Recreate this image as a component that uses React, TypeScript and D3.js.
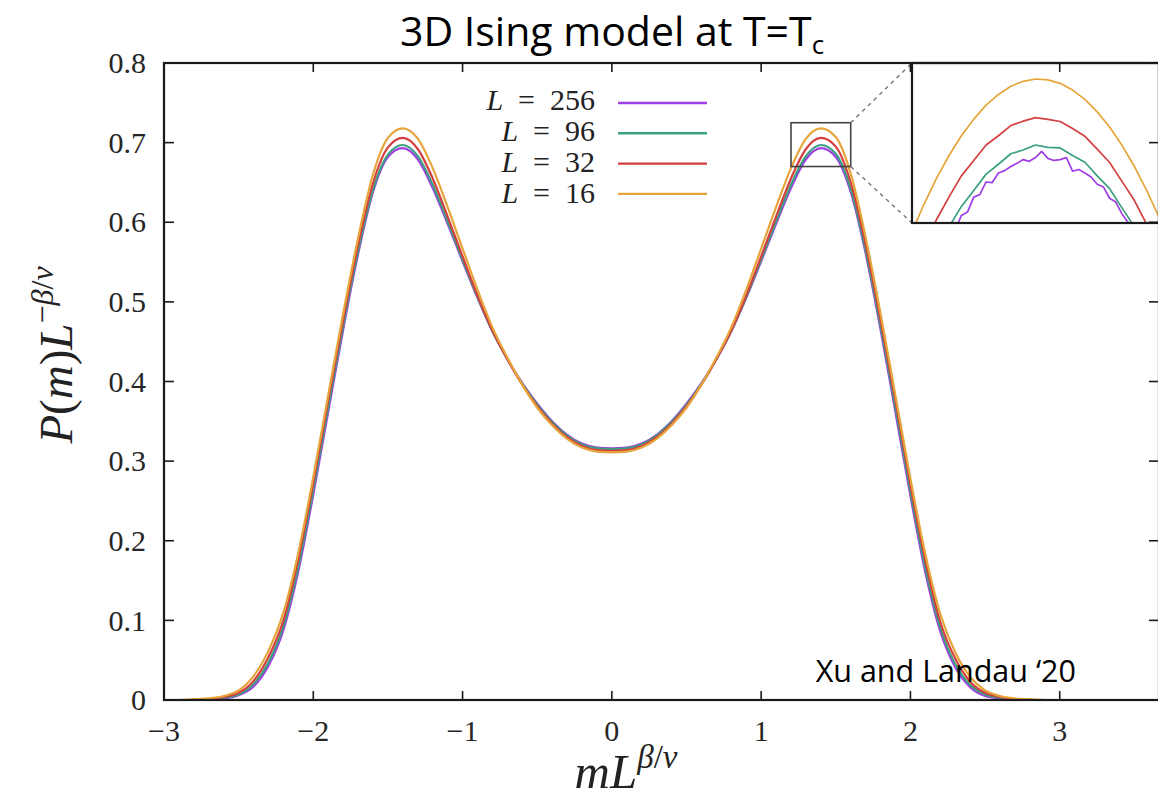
import React from "react";
import * as d3 from "d3";

// ---------- data ----------
const X_GRID = [
  -3.0, -2.9, -2.8, -2.7, -2.6, -2.5, -2.4, -2.3, -2.2, -2.1, -2.0, -1.9, -1.8, -1.7, -1.6, -1.5, -1.4,
  -1.3, -1.2, -1.1, -1.0, -0.9, -0.8, -0.7, -0.6, -0.5, -0.4, -0.3, -0.2, -0.1, 0.0, 0.1, 0.2, 0.3, 0.4,
  0.5, 0.6, 0.7, 0.8, 0.9, 1.0, 1.1, 1.2, 1.3, 1.4, 1.5, 1.6, 1.7, 1.8, 1.9, 2.0, 2.1, 2.2, 2.3, 2.4,
  2.5, 2.6, 2.7, 2.8, 2.9, 3.0, 3.1, 3.2, 3.3, 3.4, 3.5, 3.6,
];

const P_L256 = [
  0, 0, 0, 0.001, 0.002, 0.006, 0.017, 0.043, 0.088, 0.162, 0.258, 0.362, 0.465, 0.56, 0.638, 0.682, 0.693,
  0.679, 0.643, 0.598, 0.551, 0.505, 0.463, 0.428, 0.398, 0.372, 0.35, 0.333, 0.322, 0.317, 0.316, 0.317, 0.322, 0.333, 0.35,
  0.372, 0.398, 0.428, 0.463, 0.505, 0.551, 0.598, 0.643, 0.679, 0.693, 0.682, 0.638, 0.561, 0.465, 0.361, 0.256, 0.16, 0.086, 0.041, 0.016,
  0.005, 0.002, 0.001, 0, 0, 0, 0, 0, 0, 0, 0, 0,
];
const P_L96 = [
  0, 0, 0, 0.001, 0.003, 0.007, 0.02, 0.047, 0.093, 0.168, 0.264, 0.368, 0.47, 0.564, 0.641, 0.685, 0.697,
  0.683, 0.647, 0.601, 0.553, 0.506, 0.463, 0.428, 0.397, 0.371, 0.349, 0.332, 0.321, 0.316, 0.315, 0.316, 0.321, 0.332, 0.349,
  0.371, 0.397, 0.428, 0.463, 0.506, 0.553, 0.601, 0.647, 0.683, 0.697, 0.686, 0.642, 0.565, 0.47, 0.367, 0.262, 0.166, 0.091, 0.045, 0.019,
  0.007, 0.003, 0.001, 0, 0, 0, 0, 0, 0, 0, 0, 0,
];
const P_L32 = [
  0, 0, 0, 0.001, 0.004, 0.009, 0.024, 0.054, 0.1, 0.177, 0.272, 0.376, 0.477, 0.571, 0.649, 0.694, 0.706,
  0.692, 0.655, 0.607, 0.557, 0.508, 0.464, 0.428, 0.396, 0.369, 0.347, 0.33, 0.319, 0.314, 0.313, 0.314, 0.319, 0.33, 0.347,
  0.369, 0.396, 0.428, 0.464, 0.508, 0.557, 0.607, 0.655, 0.692, 0.706, 0.695, 0.65, 0.572, 0.477, 0.375, 0.27, 0.175, 0.098, 0.052, 0.023,
  0.009, 0.004, 0.001, 0, 0, 0, 0, 0, 0, 0, 0, 0,
];
const P_L16 = [
  0, 0, 0.001, 0.002, 0.005, 0.012, 0.03, 0.062, 0.11, 0.185, 0.28, 0.383, 0.485, 0.58, 0.66, 0.706, 0.718,
  0.705, 0.668, 0.619, 0.567, 0.515, 0.468, 0.43, 0.396, 0.367, 0.345, 0.328, 0.317, 0.312, 0.311, 0.312, 0.317, 0.328, 0.345,
  0.367, 0.396, 0.43, 0.468, 0.515, 0.567, 0.619, 0.668, 0.705, 0.718, 0.707, 0.661, 0.581, 0.485, 0.382, 0.278, 0.183, 0.108, 0.06, 0.029,
  0.012, 0.005, 0.002, 0.001, 0, 0, 0, 0, 0, 0, 0, 0,
];

// zoomed-in data around the right peak (inset)
const INSET_X = [
  1.2, 1.22, 1.24, 1.26, 1.28, 1.3, 1.32, 1.34, 1.36, 1.38, 1.4, 1.42, 1.44, 1.46, 1.48, 1.5, 1.52, 1.54, 1.56, 1.58, 1.6,
];
const INSET_L16 = [
  0.667, 0.6767, 0.6855, 0.6932, 0.7, 0.7057, 0.7105, 0.7142, 0.717, 0.7187, 0.7195, 0.7192, 0.718, 0.7157, 0.7125, 0.7082,
  0.703, 0.6967, 0.6895, 0.6812, 0.672,
];
const INSET_L32 = [
  0.6528, 0.6625, 0.6713, 0.679, 0.6862, 0.6915, 0.6968, 0.7, 0.7035, 0.705, 0.7062, 0.7056, 0.7049, 0.7025, 0.6998, 0.6954,
  0.6908, 0.6843, 0.6778, 0.6696, 0.6605,
];
const INSET_L96 = [
  0.6415, 0.6515, 0.6605, 0.6687, 0.6757, 0.6812, 0.6868, 0.6902, 0.6938, 0.6951, 0.6968, 0.696, 0.6958, 0.6932, 0.6909, 0.6862,
  0.6818, 0.6752, 0.6688, 0.6603, 0.6512,
];
const INSET_X_FINE = [
  1.26, 1.27, 1.28, 1.29, 1.3, 1.31, 1.32, 1.33, 1.34, 1.35, 1.36, 1.37, 1.38, 1.39, 1.4, 1.41, 1.42, 1.43, 1.44, 1.45, 1.46,
  1.47, 1.48, 1.49, 1.5, 1.51, 1.52, 1.53, 1.54, 1.55, 1.56,
];
const INSET_L256 = [
  0.6652, 0.6675, 0.6726, 0.6738, 0.6789, 0.6798, 0.6841, 0.6839, 0.6872, 0.688, 0.6894, 0.6905, 0.6918, 0.6912, 0.6925,
  0.6946, 0.6922, 0.6915, 0.6918, 0.6925, 0.6878, 0.6884, 0.6872, 0.6858, 0.6833, 0.6824, 0.6785, 0.6772, 0.6731, 0.6702, 0.6664,
];

const SERIES_L = ["256", "96", "32", "16"];
const SERIES_COLORS = ["#a03ee6", "#3aa080", "#d43f3f", "#e6a53a"];

const Y_TICKS = [0, 0.1, 0.2, 0.3, 0.4, 0.5, 0.6, 0.7, 0.8];
const Y_TICK_LABELS = ["0", "0.1", "0.2", "0.3", "0.4", "0.5", "0.6", "0.7", "0.8"];
const X_TICKS = [-3, -2, -1, 0, 1, 2, 3];
const X_TICK_LABELS = ["\u22123", "\u22122", "\u22121", "0", "1", "2", "3"];

const X_DOMAIN = [-3, 3.665];
const Y_DOMAIN = [0, 0.8];
const INSET_X_DOMAIN = [1.2, 1.6];
const INSET_Y_DOMAIN = [0.67, 0.725];

// ---------- layout ----------
const W = 1158;
const H = 798;
const PL = 164, PR = 1159, PT = 63, PB = 700;
const IL = 912, IR = 1159, IT = 63, IB = 223;
const SERIF = "'Liberation Serif', 'DejaVu Serif', serif";
const SANS = "'Open Sans', 'Liberation Sans', sans-serif";

export default function App() {
  const x = d3.scaleLinear().domain(X_DOMAIN).range([PL, PR]);
  const y = d3.scaleLinear().domain(Y_DOMAIN).range([PB, PT]);
  const ix = d3.scaleLinear().domain(INSET_X_DOMAIN).range([IL, IR]);
  const iy = d3.scaleLinear().domain(INSET_Y_DOMAIN).range([IB, IT]);

  const mainSeries = [P_L256, P_L96, P_L32, P_L16];
  const line = d3
    .line<number>()
    .x((_, i) => x(X_GRID[i]))
    .y((d) => y(d))
    .curve(d3.curveMonotoneX);

  const insetSeries: { xs: number[]; ys: number[] }[] = [
    { xs: INSET_X_FINE, ys: INSET_L256 },
    { xs: INSET_X, ys: INSET_L96 },
    { xs: INSET_X, ys: INSET_L32 },
    { xs: INSET_X, ys: INSET_L16 },
  ];

  const boxX0 = x(INSET_X_DOMAIN[0]);
  const boxX1 = x(INSET_X_DOMAIN[1]);
  const boxY0 = y(INSET_Y_DOMAIN[1]);
  const boxY1 = y(INSET_Y_DOMAIN[0]);

  const axisColor = "#1a1a1a";

  return (
    <svg
      width={W}
      height={H}
      style={{ position: "absolute", left: 0, top: 0, background: "#fff" }}
    >
      <rect x={0} y={0} width={W} height={H} fill="#fff" />
      <defs>
        <clipPath id="plotClip">
          <rect x={PL} y={PT} width={PR - PL} height={PB - PT} />
        </clipPath>
        <clipPath id="insetClip">
          <rect x={IL} y={IT} width={IR - IL} height={IB - IT} />
        </clipPath>
      </defs>

      {/* title */}
      <text x={400} y={46} fontFamily={SANS} fontSize={41} fill="#000">
        3D Ising model at T=T
        <tspan fontSize={26} dy={8}>c</tspan>
      </text>

      {/* main curves */}
      <g clipPath="url(#plotClip)">
        {mainSeries.map((s, k) => (
          <path
            key={k}
            d={line(s) || ""}
            fill="none"
            stroke={SERIES_COLORS[k]}
            strokeWidth={2.2}
            strokeLinejoin="round"
          />
        ))}
      </g>

      {/* zoom box and connector lines */}
      <rect
        x={boxX0}
        y={boxY0}
        width={boxX1 - boxX0}
        height={boxY1 - boxY0}
        fill="none"
        stroke="#444"
        strokeWidth={1.6}
      />
      <line x1={boxX1} y1={boxY0} x2={IL} y2={IT} stroke="#777" strokeWidth={1.4} strokeDasharray="4,4" />
      <line x1={boxX1} y1={boxY1} x2={IL} y2={IB} stroke="#777" strokeWidth={1.4} strokeDasharray="4,4" />

      {/* inset */}
      <rect x={IL} y={IT} width={IR - IL} height={IB - IT} fill="#fff" />
      <g clipPath="url(#insetClip)">
        {insetSeries.map((s, k) => (
          <path
            key={k}
            d={
              d3
                .line<number>()
                .x((_, i) => ix(s.xs[i]))
                .y((d) => iy(d))
                .curve(d3.curveLinear)(s.ys) || ""
            }
            fill="none"
            stroke={SERIES_COLORS[k]}
            strokeWidth={1.7}
            strokeLinejoin="round"
          />
        ))}
      </g>
      <rect x={IL} y={IT} width={IR - IL} height={IB - IT} fill="none" stroke={axisColor} strokeWidth={2.2} />

      {/* main frame */}
      <rect x={PL} y={PT} width={PR - PL} height={PB - PT} fill="none" stroke={axisColor} strokeWidth={2.2} />

      {/* y ticks */}
      {Y_TICKS.map((t, i) => (
        <g key={"y" + i}>
          <line x1={PL} x2={PL + 10} y1={y(t)} y2={y(t)} stroke={axisColor} strokeWidth={1.6} />
          <line x1={PR} x2={PR - 10} y1={y(t)} y2={y(t)} stroke={axisColor} strokeWidth={1.6} />
          <text
            x={146}
            y={y(t)}
            dy="0.34em"
            textAnchor="end"
            fontFamily={SERIF}
            fontSize={30}
            fill="#262626"
          >
            {Y_TICK_LABELS[i]}
          </text>
        </g>
      ))}

      {/* x ticks */}
      {X_TICKS.map((t, i) => (
        <g key={"x" + i}>
          <line x1={x(t)} x2={x(t)} y1={PB} y2={PB - 9} stroke={axisColor} strokeWidth={1.6} />
          <line x1={x(t)} x2={x(t)} y1={PT} y2={PT + 9} stroke={axisColor} strokeWidth={1.6} />
          <text
            x={x(t)}
            y={741}
            textAnchor="middle"
            fontFamily={SERIF}
            fontSize={30}
            fill="#262626"
          >
            {X_TICK_LABELS[i]}
          </text>
        </g>
      ))}

      {/* axis titles */}
      <text
        transform={`translate(72,355) rotate(-90)`}
        textAnchor="middle"
        fontFamily={SERIF}
        fontSize={47}
        fill="#222"
      >
        <tspan fontStyle="italic">P</tspan>(<tspan fontStyle="italic">m</tspan>)
        <tspan fontStyle="italic">L</tspan>
        <tspan fontSize={32} dy={-19}>
          {"\u2212"}
          <tspan fontStyle="italic">β</tspan>/<tspan fontStyle="italic">ν</tspan>
        </tspan>
      </text>
      <text x={626} y={788} textAnchor="middle" fontFamily={SERIF} fontSize={49} fill="#222">
        <tspan fontStyle="italic">mL</tspan>
        <tspan fontSize={33} dy={-20}>
          <tspan fontStyle="italic">β</tspan>/<tspan fontStyle="italic">ν</tspan>
        </tspan>
      </text>

      {/* legend */}
      {SERIES_L.map((lab, k) => (
        <g key={"lg" + k}>
          <text
            x={595}
            y={110 + k * 31}
            textAnchor="end"
            fontFamily={SERIF}
            fontSize={30}
            fill="#222"
            xmlSpace="preserve"
          >
            <tspan fontStyle="italic">L</tspan>
            {"\u2002=\u2002" + lab}
          </text>
          <line
            x1={618}
            x2={707}
            y1={103 + k * 30.3}
            y2={103 + k * 30.3}
            stroke={SERIES_COLORS[k]}
            strokeWidth={2.4}
          />
        </g>
      ))}

      {/* annotation */}
      <text x={1076} y={682} textAnchor="end" fontFamily={SANS} fontSize={30.5} fill="#000">
        Xu and Landau ‘20
      </text>
    </svg>
  );
}
